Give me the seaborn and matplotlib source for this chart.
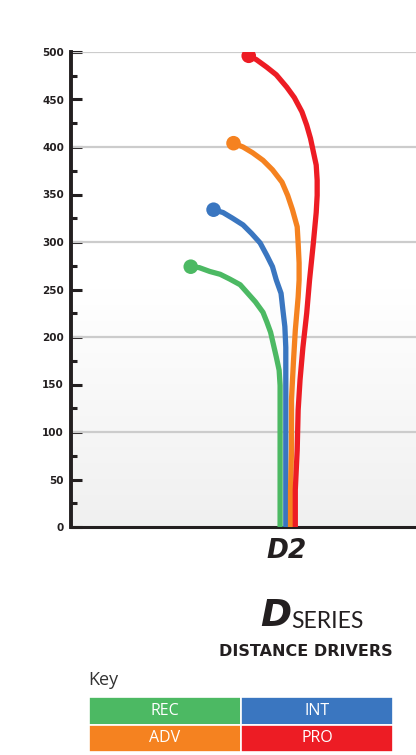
import numpy as np
import matplotlib.pyplot as plt
import matplotlib.patches as mpatches
from matplotlib.colors import LinearSegmentedColormap
import seaborn as sns
import pandas as pd

# flight paths: distance (ft) and lateral drift
discs = ['REC', 'INT', 'ADV', 'PRO']
colors = ['#4cb963', '#3a76c0', '#f58220', '#ed1c24']

rec_dist = [274, 273, 269, 266, 261, 255, 246, 237, 226, 216, 205, 192, 179, 165, 149, 113, 71, 0]
rec_lat = [-101, -92, -81, -70, -60, -49, -41, -33, -25, -21, -17, -14, -11, -8, -7, -7, -7, -7]
int_dist = [334, 331, 325, 318, 309, 299, 286, 274, 260, 246, 228, 211, 189, 155, 81, 0]
int_lat = [-77, -67, -57, -46, -37, -28, -21, -15, -11, -6, -4, -2, -1, -1, -1, -1]
adv_dist = [404, 400, 394, 386, 376, 363, 349, 334, 316, 299, 278, 260, 242, 207, 173, 134, 81, 39, 0]
adv_lat = [-56, -46, -36, -25, -15, -5, 1, 6, 11, 12, 13, 13, 12, 9, 7, 5, 5, 4, 4]
pro_dist = [496, 492, 484, 476, 463, 452, 437, 423, 409, 395, 381, 365, 349, 331, 299, 260,
            225, 189, 155, 123, 81, 39, 0]
pro_lat = [-40, -32, -21, -11, 0, 8, 16, 21, 25, 28, 31, 32, 32, 31, 28, 24,
           21, 17, 14, 12, 11, 9, 9]

yticks = [0, 50, 100, 150, 200, 250, 300, 350, 400, 450, 500]
gridvals = [100, 200, 300, 400, 500]
xlabel = 'D2'

rows = []
for name, d, l in zip(discs, [rec_dist, int_dist, adv_dist, pro_dist],
                      [rec_lat, int_lat, adv_lat, pro_lat]):
    for i, (a, b) in enumerate(zip(d, l)):
        rows.append({'disc': name, 'distance': a, 'lateral': b, 'step': i})
df = pd.DataFrame(rows)
ends = df[df['step'] == 0]

sns.set_style('white')
W, H = 416, 755
fig = plt.figure(figsize=(W / 100, H / 100), dpi=100)

def fx(px):
    return px / W

def fy(py):
    return 1 - py / H

ax = fig.add_axes([fx(71), fy(527), fx(416 - 71), (527 - 52) / H])

# soft grey gradient in the lower part
grad = np.linspace(0, 1, 256).reshape(-1, 1)
grad = np.clip((grad - 0.5) / 0.5, 0, 1)
cmap = LinearSegmentedColormap.from_list('bg', ['#ffffff', '#f0f0f0'])
ax.imshow(grad, extent=[-227, 136, 0, 500], origin='upper', aspect='auto',
          cmap=cmap, vmin=0, vmax=1, zorder=0)

for g in gridvals:
    ax.axhline(g, color='#cccccc', lw=1.6, zorder=1)

pal = dict(zip(discs, colors))
sns.lineplot(data=df, x='lateral', y='distance', hue='disc', palette=pal,
             sort=False, estimator=None, lw=3.8, legend=False, ax=ax, zorder=3,
             solid_joinstyle='round')
sns.scatterplot(data=ends, x='lateral', y='distance', hue='disc', palette=pal,
                s=110, linewidth=0, legend=False, ax=ax, zorder=4)

ax.set_xlim(-227, 136)
ax.set_ylim(0, 500)
ax.set_xlabel('')
ax.set_ylabel('')
ax.set_yticks(yticks)
ax.set_yticks([v + 25 for v in yticks[:-1]], minor=True)
ax.set_yticklabels([str(v) for v in yticks], fontsize=7.5, fontweight='bold',
                   color='#231f20')
ax.tick_params(axis='y', which='major', direction='in', length=8, width=2.2,
               color='#231f20', pad=5, left=True)
ax.tick_params(axis='y', which='minor', direction='in', length=4, width=2.2,
               color='#231f20', left=True)
ax.set_xticks([0])
ax.set_xticklabels([xlabel], fontsize=19, fontweight='heavy', style='italic',
                   color='#231f20')
ax.tick_params(axis='x', length=0, pad=8)
sns.despine(ax=ax)
ax.spines['left'].set_linewidth(2.8)
ax.spines['left'].set_color('#231f20')
ax.spines['bottom'].set_linewidth(2.2)
ax.spines['bottom'].set_color('#231f20')
ax.set_facecolor('white')

# series logo
fig.text(fx(291), fy(616), 'D', fontsize=27, fontweight='heavy', style='italic',
         color='#231f20', ha='right', va='center')
fig.text(fx(291), fy(621), 'SERIES', fontsize=16.5, family='Lato',
         color='#231f20', ha='left', va='center')
fig.text(fx(306), fy(651), 'DISTANCE DRIVERS', fontsize=11.5, fontweight='bold',
         color='#231f20', ha='center', va='center')
fig.text(fx(88), fy(680), 'Key', fontsize=13, family='Open Sans',
         color='#333333', ha='left', va='center')

# key table
kax = fig.add_axes([fx(89), fy(752), fx(393 - 89), (752 - 697) / H])
kax.set_xlim(0, 2)
kax.set_ylim(0, 2)
kax.axis('off')
for i, (name, c) in enumerate(zip(discs, colors)):
    col = i % 2
    row = 1 - i // 2
    kax.add_patch(mpatches.Rectangle((col, row), 1, 1, facecolor=c,
                                     edgecolor='white', lw=1.2))
    kax.text(col + 0.5, row + 0.5, name, color='white', fontsize=11.5,
             family='Open Sans', ha='center', va='center')

fig.savefig('out.png', dpi=100)
